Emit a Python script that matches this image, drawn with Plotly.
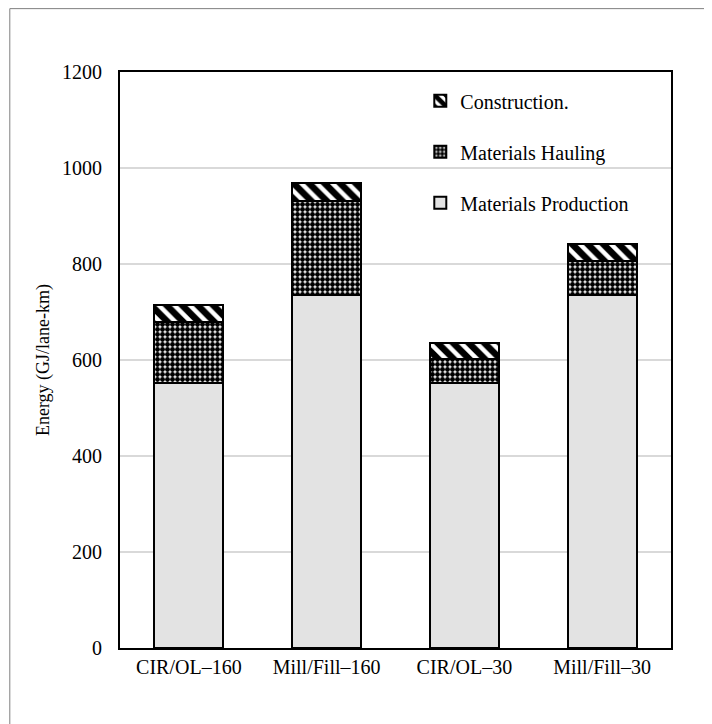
import plotly.graph_objects as go

categories = ["CIR/OL\u2013160", "Mill/Fill\u2013160", "CIR/OL\u201330", "Mill/Fill\u201330"]
production = [552, 736, 552, 736]
hauling = [127, 196, 50, 70]
construction = [36, 37, 34, 36]
y_ticks = [0, 200, 400, 600, 800, 1000, 1200]

FONT = "Liberation Serif"

fig = go.Figure()
fig.add_trace(go.Bar(
    x=categories, y=production, name="Materials Production",
    legendgroup="p", legendrank=3,
    marker=dict(color="#e3e3e3", line=dict(color="black", width=2)),
))
fig.add_trace(go.Bar(
    x=categories, y=hauling, name="Materials Hauling",
    legendgroup="h", legendrank=2,
    marker=dict(color="white", line=dict(color="black", width=2),
                pattern=dict(shape=".", fgcolor="black", bgcolor="white",
                             fgopacity=1, size=5, solidity=0.75)),
))
fig.add_trace(go.Bar(
    x=categories, y=construction, name="Construction.",
    legendgroup="c", legendrank=1,
    marker=dict(color="white", line=dict(color="black", width=2),
                pattern=dict(shape="\\", fgcolor="black", bgcolor="white",
                             fgopacity=1, size=11, solidity=0.6)),
))

fig.update_layout(
    barmode="stack",
    bargap=0.5,
    width=712, height=724,
    margin=dict(l=112, r=49, t=64, b=84),
    paper_bgcolor="white", plot_bgcolor="white",
    font=dict(family=FONT, size=20, color="black"),
    showlegend=True,
    legend=dict(
        x=0.545, y=0.984, xanchor="left", yanchor="top",
        traceorder="grouped", tracegroupgap=22,
        bgcolor="rgba(0,0,0,0)", font=dict(family=FONT, size=20),
        itemwidth=30,
    ),
    xaxis=dict(
        showline=True, linecolor="black", linewidth=2, mirror=True,
        ticks="", tickfont=dict(family=FONT, size=20),
    ),
    yaxis=dict(
        range=[0, 1200], tickvals=y_ticks,
        showline=True, linecolor="black", linewidth=2, mirror=True,
        showgrid=True, gridcolor="#d9d9d9", gridwidth=2,
        ticks="", tickfont=dict(family=FONT, size=20),
        ticklabelstandoff=12,
        title=dict(text="Energy (GJ/lane-km)", font=dict(family=FONT, size=18), standoff=8),
        zeroline=False,
    ),
    shapes=[dict(type="rect", xref="paper", yref="paper",
                 x0=-0.2, y0=-0.3, x1=1.2, y1=1.11,
                 line=dict(color="#7f7f7f", width=1), layer="below")],
)

fig.write_html("out.html")
